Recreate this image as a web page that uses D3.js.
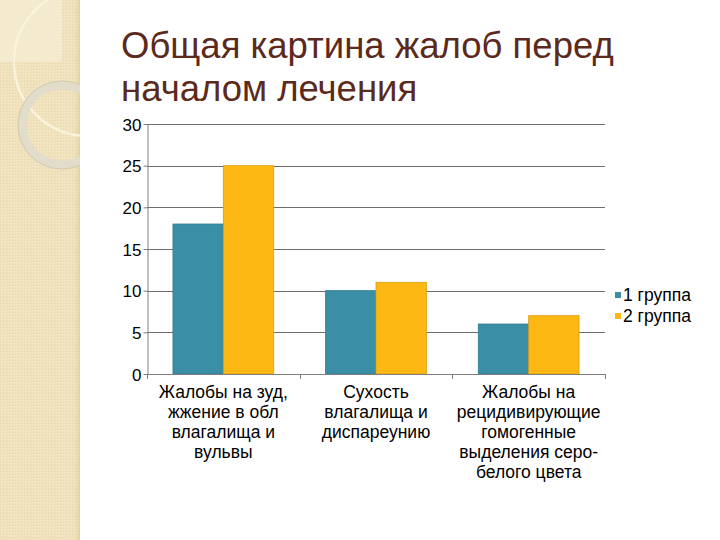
<!DOCTYPE html>
<html><head><meta charset="utf-8">
<script src="https://cdn.jsdelivr.net/npm/d3@7"></script>
<style>body{margin:0;background:#fff}svg{display:block}</style>
</head><body>
<svg id="c" width="720" height="540"></svg>
<script>
const categories = [
  ["Жалобы на зуд,", "жжение в обл", "влагалища и", "вульвы"],
  ["Сухость", "влагалища и", "диспареунию"],
  ["Жалобы на", "рецидивирующие", "гомогенные", "выделения серо-", "белого цвета"]
];
const seriesNames = ["1 группа", "2 группа"];
const group1 = [18, 10, 6];
const group2 = [25, 11, 7];
const yTicks = [0, 5, 10, 15, 20, 25, 30];
const colors = ["#3a8fa6", "#fdb813"];
const strokes = ["#2f7a8e", "#d99d10"];
const titleLines = ["Общая картина жалоб перед", "началом лечения"];

(function(){
const FONT = "'Liberation Sans', Arial, sans-serif";
const svg = d3.select("#c");
const defs = svg.append("defs");
defs.append("clipPath").attr("id","strip").append("rect").attr("x",0).attr("y",0).attr("width",80).attr("height",540);
const pat = defs.append("pattern").attr("id","tex").attr("width",3).attr("height",3).attr("patternUnits","userSpaceOnUse");
pat.append("rect").attr("width",3).attr("height",3).attr("fill","#efe2bd");
pat.append("rect").attr("width",1).attr("height",1).attr("fill","#e6d6aa");
pat.append("rect").attr("x",2).attr("y",1).attr("width",1).attr("height",1).attr("fill","#f4e9ca");
const grad = defs.append("linearGradient").attr("id","edge").attr("x1","0").attr("x2","1");
grad.append("stop").attr("offset","0").attr("stop-color","#e5d5a8").attr("stop-opacity",0);
grad.append("stop").attr("offset","1").attr("stop-color","#d8c690").attr("stop-opacity",0.6);

const strip = svg.append("g").attr("clip-path","url(#strip)");
strip.append("rect").attr("width",80).attr("height",540).attr("fill","url(#tex)");
strip.append("rect").attr("x",74).attr("width",6).attr("height",540).attr("fill","url(#edge)");
strip.append("rect").attr("x",0).attr("y",0).attr("width",62).attr("height",62).attr("fill","#f5ecd3").attr("opacity",0.75);
strip.append("circle").attr("cx",88).attr("cy",62).attr("r",74).attr("fill","none").attr("stroke","#faf3dc").attr("stroke-width",2.5);
strip.append("circle").attr("cx",62).attr("cy",125).attr("r",40).attr("fill","none").attr("stroke","#e2dccb").attr("stroke-width",9);
strip.append("circle").attr("cx",62).attr("cy",125).attr("r",44).attr("fill","none").attr("stroke","#d3c9ad").attr("stroke-width",1);

svg.append("g").selectAll("text").data(titleLines).join("text")
  .attr("x",121).attr("y",(d,i)=>58+i*43)
  .attr("font-family",FONT)
  .attr("font-size",36.5).attr("fill","#5b2a1c").text(d=>d);

const pLeft=147, pRight=605, pTop=124, pBottom=374;
const x = d3.scaleBand().domain(d3.range(categories.length)).range([pLeft,pRight]).paddingInner(0.34).paddingOuter(0.17);
const xSub = d3.scaleBand().domain([0,1]).range([0,x.bandwidth()]);
const y = d3.scaleLinear().domain([0,30]).range([pBottom,pTop]);

const g = svg.append("g");
g.append("g").selectAll("line").data(yTicks).join("line")
  .attr("x1",pLeft).attr("x2",pRight).attr("y1",d=>Math.round(y(d))+0.5).attr("y2",d=>Math.round(y(d))+0.5)
  .attr("stroke","#6e6e6e");
g.append("g").attr("transform",`translate(${pLeft+0.5},0)`)
  .call(d3.axisLeft(y).tickValues(yTicks).tickSize(4).tickSizeOuter(0).tickPadding(2))
  .call(a=>{a.select(".domain").attr("stroke","#7f7f7f");
    a.selectAll(".tick line").attr("stroke","#7f7f7f");
    a.selectAll(".tick text").attr("font-family",FONT).attr("font-size",17).attr("fill","#000").attr("dy","0.36em");});

const data = categories.map((c,i)=>[group1[i], group2[i]]);
const cg = g.append("g").selectAll("g").data(data).join("g").attr("transform",(d,i)=>`translate(${x(i)},0)`);
cg.selectAll("rect").data(d=>d).join("rect")
  .attr("x",(d,j)=>xSub(j)).attr("width",xSub.bandwidth())
  .attr("y",d=>y(d)).attr("height",d=>pBottom-y(d))
  .attr("fill",(d,j)=>colors[j]).attr("stroke",(d,j)=>strokes[j]).attr("stroke-width",0.8);

const step = (pRight-pLeft)/categories.length;
const xb = g.append("g");
xb.append("line").attr("x1",pLeft).attr("x2",pRight).attr("y1",pBottom+0.5).attr("y2",pBottom+0.5).attr("stroke","#7f7f7f");
xb.selectAll(".tk").data(d3.range(categories.length+1)).join("line").attr("class","tk")
  .attr("x1",i=>Math.round(pLeft+i*step)+0.5).attr("x2",i=>Math.round(pLeft+i*step)+0.5).attr("y1",pBottom).attr("y2",pBottom+5).attr("stroke","#7f7f7f");
xb.selectAll("text").data(categories).join("text")
  .attr("text-anchor","middle").attr("font-family",FONT).attr("font-size",17.5).attr("fill","#000")
  .attr("transform",(d,i)=>`translate(${x(i)+x.bandwidth()/2},398)`)
  .selectAll("tspan").data(d=>d).join("tspan").attr("x",0).attr("y",(d,k)=>k*20).text(d=>d);

const lg = svg.append("g").attr("transform","translate(615,295)");
const li = lg.selectAll("g").data(seriesNames).join("g").attr("transform",(d,i)=>`translate(0,${i*21})`);
li.append("rect").attr("x",0).attr("y",-3).attr("width",6).attr("height",6).attr("fill",(d,i)=>colors[i]);
li.append("text").attr("x",8).attr("dy","0.36em").attr("font-family",FONT).attr("font-size",17.5).attr("fill","#000").text(d=>d);
})();
</script>
</body></html>
